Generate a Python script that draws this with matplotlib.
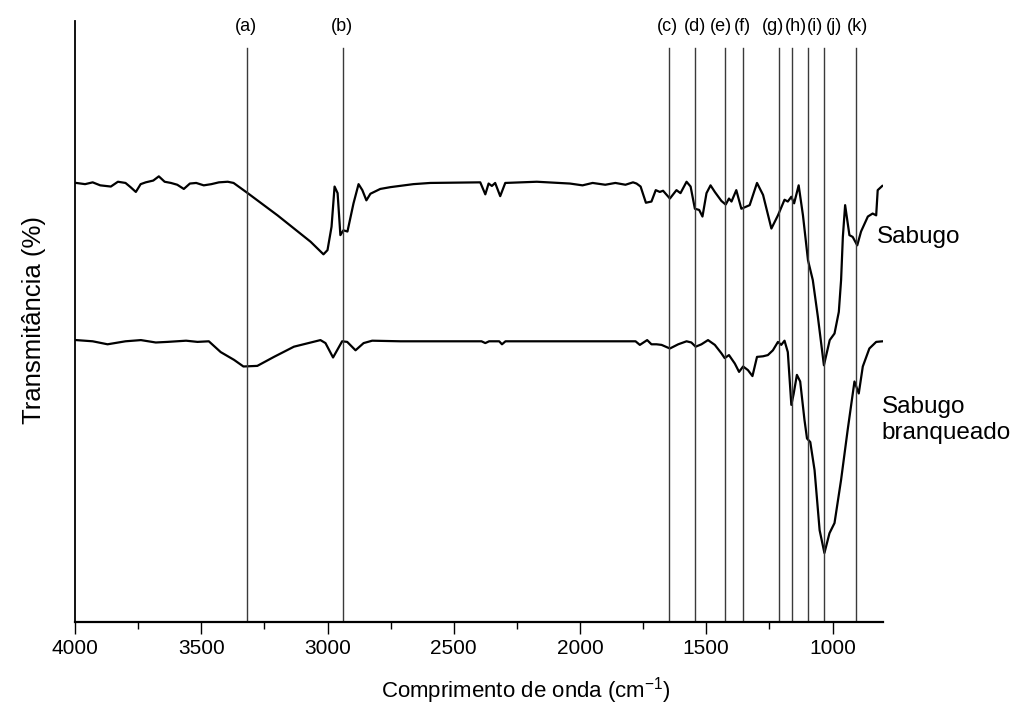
import matplotlib
matplotlib.use("Agg")
import matplotlib.pyplot as plt
from matplotlib.ticker import MultipleLocator

plt.rcParams['font.family'] = ['Liberation Sans', 'DejaVu Sans']
plt.rcParams['mathtext.default'] = 'regular'

# ---------------- data ----------------
sabugo_wn = [3995, 3960, 3930, 3900, 3858, 3830, 3800, 3780, 3759, 3740, 3720, 3690, 3668,
             3645, 3620, 3595, 3569, 3545, 3520, 3490, 3460, 3430, 3395, 3372, 3316, 3198,
             3067, 3016, 3000, 2984, 2972, 2960, 2949, 2937, 2921, 2897, 2877, 2862, 2846,
             2830, 2791, 2751, 2660, 2593, 2395, 2375, 2362, 2349, 2336, 2316, 2296, 2171,
             2040, 1990, 1950, 1900, 1860, 1820, 1790, 1776, 1760, 1739, 1717, 1700, 1684,
             1671, 1644, 1618, 1602, 1578, 1562, 1545, 1528, 1515, 1499, 1483, 1466, 1440,
             1423, 1410, 1400, 1381, 1361, 1328, 1299, 1275, 1242, 1216, 1190, 1177, 1163,
             1152, 1134, 1117, 1097, 1078, 1058, 1034, 1011, 992, 975, 966, 959, 950, 933,
             920, 902, 887, 860, 841, 827, 821, 803]
sabugo_T = [73.2, 73.0, 73.3, 72.8, 72.6, 73.4, 73.2, 72.5, 71.7, 73.0, 73.3, 73.6, 74.3,
            73.4, 73.2, 72.9, 72.2, 73.1, 73.2, 72.8, 73.0, 73.3, 73.4, 73.2, 71.5, 67.8,
            63.4, 61.3, 62.0, 65.9, 72.6, 71.5, 64.5, 65.3, 65.1, 69.8, 73.0, 72.0, 70.3,
            71.4, 72.2, 72.5, 73.0, 73.2, 73.3, 71.3, 73.1, 72.7, 73.2, 71.0, 73.2, 73.4,
            73.1, 72.8, 73.2, 72.9, 73.2, 72.9, 73.3, 73.1, 72.6, 69.9, 70.1, 72.0, 71.7,
            71.9, 70.6, 72.0, 71.5, 73.4, 72.6, 68.9, 68.7, 67.6, 71.5, 72.8, 71.7, 70.2,
            69.6, 70.6, 70.1, 72.0, 68.9, 69.5, 73.2, 71.2, 65.6, 67.8, 70.4, 70.1, 70.9,
            69.8, 72.8, 67.8, 60.3, 57.0, 50.9, 42.8, 47.0, 48.1, 51.7, 57.0, 64.2, 69.5,
            64.5, 64.2, 62.8, 65.1, 67.6, 68.1, 67.8, 72.0, 72.7]

branq_wn = [3995, 3930, 3871, 3800, 3739, 3680, 3634, 3560, 3515, 3470, 3423, 3370, 3333,
            3278, 3212, 3133, 3028, 3008, 2978, 2962, 2942, 2922, 2889, 2857, 2823, 2711,
            2390, 2375, 2360, 2320, 2309, 2295, 2000, 1780, 1763, 1734, 1717, 1697, 1677,
            1644, 1611, 1578, 1559, 1542, 1519, 1493, 1466, 1440, 1427, 1410, 1387, 1370,
            1354, 1335, 1317, 1299, 1275, 1256, 1236, 1216, 1203, 1190, 1177, 1163, 1154,
            1141, 1128, 1111, 1101, 1088, 1071, 1051, 1032, 1012, 992, 966, 940, 913, 896,
            880, 854, 827, 801]
branq_T = [47.0, 46.8, 46.3, 46.8, 47.0, 46.6, 46.7, 46.9, 46.7, 46.8, 45.0, 43.7, 42.6,
           42.7, 44.2, 45.9, 47.0, 46.5, 44.1, 45.3, 46.8, 46.7, 45.3, 46.5, 46.9, 46.8,
           46.8, 46.5, 46.8, 46.8, 46.3, 46.8, 46.8, 46.8, 46.2, 47.0, 46.3, 46.3, 46.2,
           45.6, 46.3, 46.8, 46.6, 45.9, 46.3, 47.0, 46.2, 44.8, 44.0, 44.5, 43.1, 41.7,
           42.6, 42.0, 41.0, 44.2, 44.3, 44.5, 45.3, 46.7, 46.2, 46.9, 45.0, 36.2, 38.0,
           41.2, 40.1, 33.7, 30.6, 30.0, 25.3, 15.3, 11.5, 14.8, 16.5, 23.7, 32.0, 40.1,
           38.1, 42.6, 45.6, 46.7, 46.8]

band_labels = ['(a)', '(b)', '(c)', '(d)', '(e)', '(f)', '(g)', '(h)', '(i)', '(j)', '(k)']
band_wn = [3320, 2938, 1648, 1543, 1427, 1356, 1212, 1162, 1098, 1034, 906]

series_names = ['Sabugo', 'Sabugo\nbranqueado']

# ---------------- style ----------------
label_dx_px = [-1, -1, -1, 0, -4, 0, -6, 4, 7, 10, 1]

fig = plt.figure(figsize=(10.29, 7.10), dpi=100)
ax = fig.add_axes([75/1029, 1-622/710, 808/1029, 601/710])

ax.plot(sabugo_wn, sabugo_T, color='black', lw=1.6)
ax.plot(branq_wn, branq_T, color='black', lw=1.6)

line_top = 95.7
for wn, lab, dx in zip(band_wn, band_labels, label_dx_px):
    ax.plot([wn, wn], [0, line_top], color='#3a3a3a', lw=1.0)
    ax.annotate(lab, xy=(wn, 99.2), xytext=(dx, 0), textcoords='offset pixels',
                ha='center', va='center', fontsize=13, annotation_clip=False)

ax.text(826, 64.2, series_names[0], ha='left', va='center', fontsize=17.5, clip_on=False)
ax.text(806, 33.7, series_names[1], ha='left', va='center', fontsize=17.5,
        linespacing=1.2, clip_on=False)

ax.set_xlim(4000, 800)
ax.set_ylim(0, 100.2)
ax.xaxis.set_major_locator(MultipleLocator(500))
ax.xaxis.set_minor_locator(MultipleLocator(250))
ax.tick_params(axis='x', which='major', direction='out', length=8.5, width=1.0,
               labelsize=15, pad=4)
ax.tick_params(axis='x', which='minor', direction='out', length=5, width=1.0)
ax.set_yticks([])
for s in ['top', 'right']:
    ax.spines[s].set_visible(False)
ax.spines['bottom'].set_linewidth(1.6)
ax.spines['left'].set_linewidth(1.3)

ax.set_xlabel('Comprimento de onda (cm$^{-1}$)', fontsize=16)
ax.xaxis.set_label_coords(0.558, -0.088)
ax.set_ylabel('Transmitância (%)', fontsize=18.5)
ax.yaxis.set_label_coords(-0.036, 0.502)

fig.savefig('out.png', dpi=100)
